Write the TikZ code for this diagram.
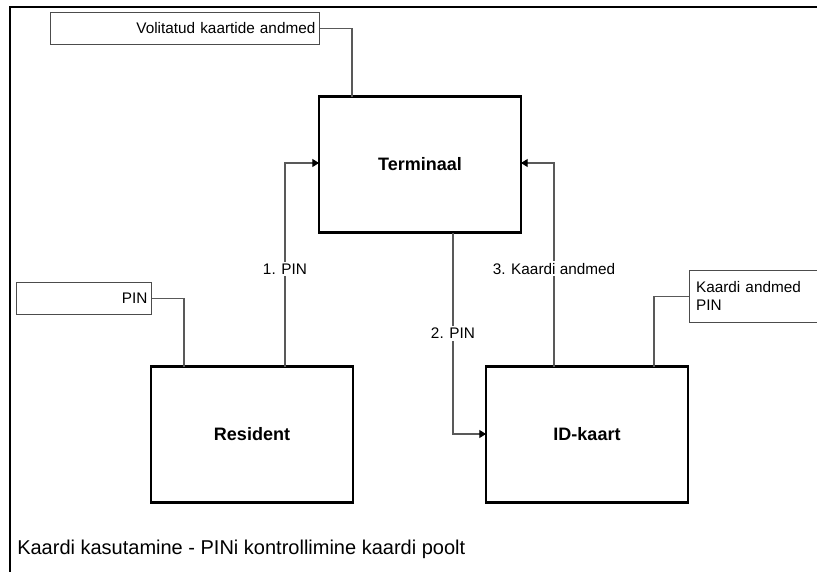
\documentclass[tikz,border=0pt]{standalone}
\usepackage{fontspec}
\setmainfont{Liberation Sans}
\usetikzlibrary{arrows.meta}
\begin{document}
\begin{tikzpicture}[x=0.75pt,y=-0.75pt,
  actor/.style={draw=black,line width=1.9pt,minimum width=202*0.75pt,minimum height=136*0.75pt,
    inner sep=0pt,font=\bfseries\fontsize{13.5}{16}\selectfont},
  memo/.style={draw=black!70,line width=0.6pt,inner xsep=3pt,inner ysep=0pt,
    font=\fontsize{11.5}{13.5}\selectfont},
  link/.style={draw=black!65,line width=0.8pt},
  flow/.style={link,-{Triangle[length=5pt,width=6pt,color=black]}},
  tag/.style={fill=white,inner sep=1.5pt,font=\fontsize{11.5}{13.5}\selectfont}]
\useasboundingbox (0,0) rectangle (817,572);
% frame
\draw[line width=1.5pt] (817,7) -- (10,7) -- (10,572);
% main boxes
\node[actor] (term) at (420,164.5) {Terminaal};
\node[actor] (res) at (252,434.5) {Resident};
\node[actor] (idk) at (587,434.5) {ID-kaart};
% notes
\node[memo,minimum width=269*0.75pt,minimum height=32*0.75pt,text width=269*0.75pt-6pt,align=right,anchor=north west] (n1) at (50,12) {Volitatud kaartide andmed};
\node[memo,minimum width=135*0.75pt,minimum height=32*0.75pt,text width=135*0.75pt-6pt,align=right,anchor=north west] (n2) at (16,282) {PIN};
\node[memo,minimum width=135*0.75pt,minimum height=52*0.75pt,text width=135*0.75pt-10pt,align=left,anchor=north west,inner xsep=5pt] (n3) at (689,270) {Kaardi andmed\\PIN};
% attachment points on the box edges
\coordinate (a1) at (352,96.5);
\coordinate (a2) at (184,366.5);
\coordinate (a3) at (654,366.5);
\coordinate (s1) at (285,366.5);
\coordinate (s2) at (453,232.5);
\coordinate (s3) at (554,366.5);
\coordinate (e1) at (319,163);
\coordinate (e3) at (521,163);
\coordinate (e2) at (486,434);
% note connectors
\draw[link] (n1.east) -| (a1);
\draw[link] (n2.east) -| (a2);
\draw[link] (n3.west) -| (a3);
% message flows
\draw[flow] (s1) |- node[tag,pos=0.24] {1. PIN} (e1);
\draw[flow] (s2) |- node[tag,pos=0.25] {2. PIN} (e2);
\draw[flow] (s3) |- node[tag,pos=0.24] {3. Kaardi andmed} (e3);
% caption
\node[anchor=west,inner sep=0pt,font=\fontsize{15}{18}\selectfont] (cap) at (17,549) {Kaardi kasutamine - PINi kontrollimine kaardi poolt};
\end{tikzpicture}
\end{document}
